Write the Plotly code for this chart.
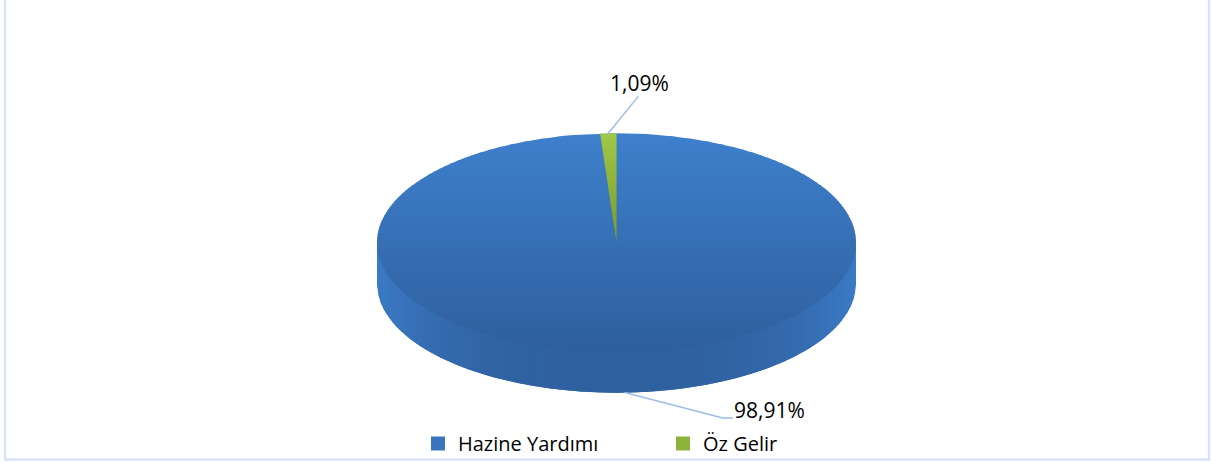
import math
import plotly.graph_objects as go

# data
labels = ["Hazine Yardımı", "Öz Gelir"]
shares = [98.91, 1.09]

# style
W, H = 1211, 463
CX, CY = 616.5, 243.0      # centre of the top face (px)
RX, RY = 239.5, 109.5      # radii of the top face (px)
DEPTH = 41.0               # thickness of the disc (px)
FONT = "Open Sans"
LEADER = "#9dbde6"
BORDER = "#d8e3f5"

TOP_BLUE = (62, 128, 204)
LOW_BLUE = (46, 95, 158)
EDGE_BLUE = (59, 122, 198)
MID_BLUE = (47, 97, 160)
TOP_GREEN = (160, 198, 70)
LOW_GREEN = (122, 154, 47)
LEGEND_COLORS = ["#3a74bf", "#8cb43c"]


def mix(c0, c1, t):
    return "rgb(%d,%d,%d)" % tuple(round(a + (b - a) * t) for a, b in zip(c0, c1))


def pt(deg, frac=1.0, dy=0.0):
    a = math.radians(deg)
    return CX + RX * frac * math.cos(a), CY - RY * frac * math.sin(a) + dy


def half_width(y):
    u = (y - CY) / RY
    return RX * math.sqrt(max(0.0, 1 - u * u))


def front_y(x):
    u = (x - CX) / RX
    return CY + RY * math.sqrt(max(0.0, 1 - u * u))


def poly(fig, xs, ys, color):
    fig.add_trace(go.Scatter(
        x=xs + xs[:1], y=ys + ys[:1], mode="lines", fill="toself",
        fillcolor=color, line=dict(width=0, color=color),
        hoverinfo="skip", showlegend=False,
    ))


fig = go.Figure()

# slice angles (clockwise from 12 o'clock)
total = sum(shares)
angles = []
start = 90.0
for v in shares:
    sweep = 360.0 * v / total
    angles.append((start, start - sweep))
    start -= sweep

# ── side wall (front half) ───────────────────────────────────────────────
xs_base = [CX - RX + 2 * RX * i / 120 for i in range(121)]
top_edge = [front_y(x) for x in xs_base]
poly(fig, xs_base + xs_base[::-1],
     top_edge + [y + DEPTH for y in top_edge[::-1]], mix(EDGE_BLUE, MID_BLUE, 0.7))
n_side = 160
for i in range(n_side):
    x0 = CX - RX + 2 * RX * i / n_side
    x1 = min(CX + RX, CX - RX + 2 * RX * (i + 1) / n_side + 1.0)
    seg = [x0 + (x1 - x0) * k / 3 for k in range(4)]
    yt = [front_y(x) for x in seg]
    u = abs(((x0 + x1) / 2 - CX) / RX)
    t = 1 - u ** 3
    poly(fig, seg + seg[::-1], [y - 1 for y in yt] + [y + DEPTH for y in yt[::-1]],
         mix(EDGE_BLUE, MID_BLUE, t))

# ── top face (blue, vertical gradient) ───────────────────────────────────
n_top = 80
for i in range(n_top):
    y0 = CY - RY + 2 * RY * i / n_top
    y1 = min(CY + RY, CY - RY + 2 * RY * (i + 1) / n_top + 0.8)
    ys = [y0 + (y1 - y0) * k / 4 for k in range(5)]
    left = [CX - half_width(y) for y in ys]
    right = [CX + half_width(y) for y in ys[::-1]]
    poly(fig, left + right, ys + ys[::-1], mix(TOP_BLUE, LOW_BLUE, i / (n_top - 1)))

# ── small slice (green) ──────────────────────────────────────────────────
a0, a1 = angles[1]
n_g = 14
for i in range(n_g):
    f0, f1 = i / n_g, min(1.0, (i + 1) / n_g + 0.01)
    arc_out = [pt(a0 + (a1 - a0) * k / 6, f1) for k in range(7)]
    arc_in = [pt(a0 + (a1 - a0) * k / 6, f0) for k in range(7)][::-1]
    pts = arc_out + arc_in
    poly(fig, [p[0] for p in pts], [p[1] for p in pts],
         mix(LOW_GREEN, TOP_GREEN, i / (n_g - 1)))

# ── data labels with leader lines ────────────────────────────────────────
def pct(v):
    return f"{v:.2f}".replace(".", ",") + "%"

# green label: anchor on the top rim
gm = sum(angles[1]) / 2
gx, gy = pt(gm)
fig.add_trace(go.Scatter(x=[gx, gx + 30], y=[gy, gy - 37], mode="lines",
                         line=dict(color=LEADER, width=1.5),
                         hoverinfo="skip", showlegend=False))
fig.add_annotation(x=gx + 31, y=gy - 50, text=pct(shares[1]), showarrow=False,
                   xanchor="center", yanchor="middle",
                   font=dict(family=FONT, size=21, color="#000000"))

# blue label: anchor on the bottom rim of the side wall
bm = sum(angles[0]) / 2
bx, by = pt(bm, dy=DEPTH)
fig.add_trace(go.Scatter(x=[bx, bx + 98, bx + 108], y=[by, by + 25.5, by + 25.5],
                         mode="lines", line=dict(color=LEADER, width=1.5),
                         hoverinfo="skip", showlegend=False))
fig.add_annotation(x=bx + 107, y=by + 17, text=pct(shares[0]), showarrow=False,
                   xanchor="left", yanchor="middle",
                   font=dict(family=FONT, size=21, color="#000000"))

# ── legend ───────────────────────────────────────────────────────────────
for name, col in zip(labels, LEGEND_COLORS):
    fig.add_trace(go.Scatter(x=[None], y=[None], mode="markers", name=name,
                             marker=dict(symbol="square", size=14, color=col)))

# chart border (top edge is outside the picture)
fig.add_shape(type="rect", x0=5, x1=1209, y0=-10, y1=460.5,
              line=dict(color=BORDER, width=2.5), layer="below")

fig.update_layout(
    width=W, height=H,
    margin=dict(l=0, r=0, t=0, b=0),
    paper_bgcolor="white", plot_bgcolor="white",
    xaxis=dict(range=[0, W], visible=False, fixedrange=True),
    yaxis=dict(range=[H, 0], visible=False, fixedrange=True),
    showlegend=True,
    legend=dict(orientation="h", x=418 / W, y=1 - 444 / H,
                xanchor="left", yanchor="middle",
                entrywidth=200, entrywidthmode="pixels",
                itemclick=False, itemdoubleclick=False,
                font=dict(family=FONT, size=20, color="#000000"),
                bgcolor="rgba(0,0,0,0)"),
)

fig.write_html(
    "out.html",
    config={"displayModeBar": False},
    post_script="document.body.style.margin='0';document.body.style.overflow='hidden';",
)
